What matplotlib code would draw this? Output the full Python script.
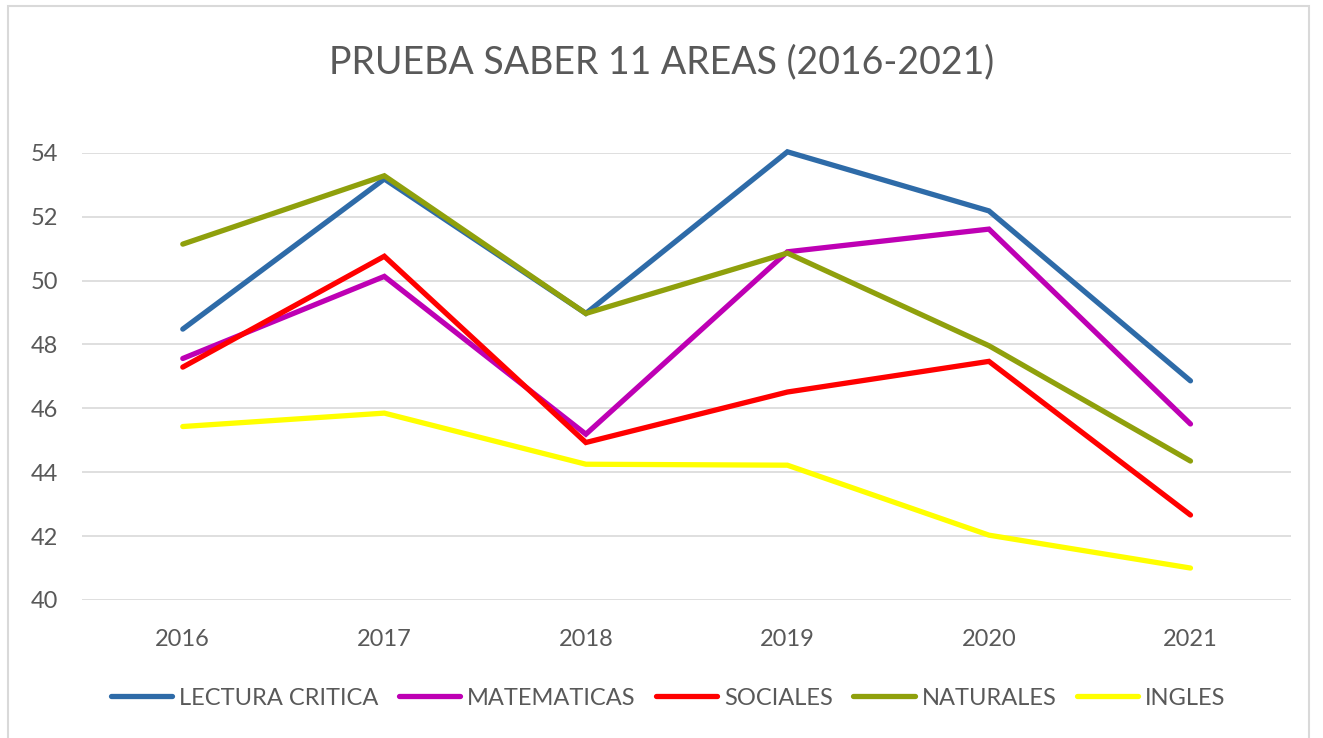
import matplotlib.pyplot as plt
from matplotlib.patches import Rectangle

years = ["2016", "2017", "2018", "2019", "2020", "2021"]
lectura = [48.48, 53.18, 48.97, 54.03, 52.18, 46.86]
matematicas = [47.56, 50.13, 45.19, 50.90, 51.61, 45.51]
sociales = [47.29, 50.76, 44.93, 46.51, 47.47, 42.66]
naturales = [51.14, 53.28, 48.97, 50.86, 47.96, 44.35]
ingles = [45.43, 45.85, 44.25, 44.22, 42.03, 41.00]

series = [
    ("LECTURA CRITICA", lectura, "#2E6BA8"),
    ("MATEMATICAS", matematicas, "#BE00B4"),
    ("SOCIALES", sociales, "#FF0000"),
    ("NATURALES", naturales, "#8FA00C"),
    ("INGLES", ingles, "#FFFF00"),
]

plt.rcParams['font.family'] = ['Lato', 'DejaVu Sans']
text_color = "#595959"

fig = plt.figure(figsize=(13.23, 7.38), dpi=100, facecolor="white")
ax = fig.add_axes([0.062, 0.187, 0.914, 0.606])

x = list(range(len(years)))
for name, vals, col in series:
    ax.plot(x, vals, color=col, linewidth=3.8, label=name, clip_on=False,
            solid_capstyle="round", solid_joinstyle="miter")

ax.set_xlim(-0.5, 5.5)
ax.set_ylim(40, 54)
ax.set_yticks(range(40, 55, 2))
ax.set_xticks(x)
ax.set_xticklabels(years)
ax.grid(axis="y", color="#d9d9d9", linewidth=1.2)
ax.set_axisbelow(True)
for s in ax.spines.values():
    s.set_visible(False)
ax.tick_params(axis="both", length=0, labelsize=17, colors=text_color)
ax.tick_params(axis="y", pad=17)
ax.tick_params(axis="x", pad=21)

fig.text(0.5, 0.916, "PRUEBA SABER 11 AREAS (2016-2021)", ha="center", va="center",
         fontsize=27, color=text_color)

fig.legend(loc="center", bbox_to_anchor=(0.505, 0.054), ncol=5, frameon=False,
           fontsize=17, handlelength=2.6, handletextpad=0.3, columnspacing=0.85,
           labelcolor=text_color)

# chart border
fig.patches.append(Rectangle((8 / 1323, -0.1), 1301 / 1323, 1.1 - 6 / 738,
                             transform=fig.transFigure, fill=False,
                             edgecolor="#d9d9d9", linewidth=1.5))

plt.savefig("out.png", dpi=100, facecolor=fig.get_facecolor())
plt.close()
